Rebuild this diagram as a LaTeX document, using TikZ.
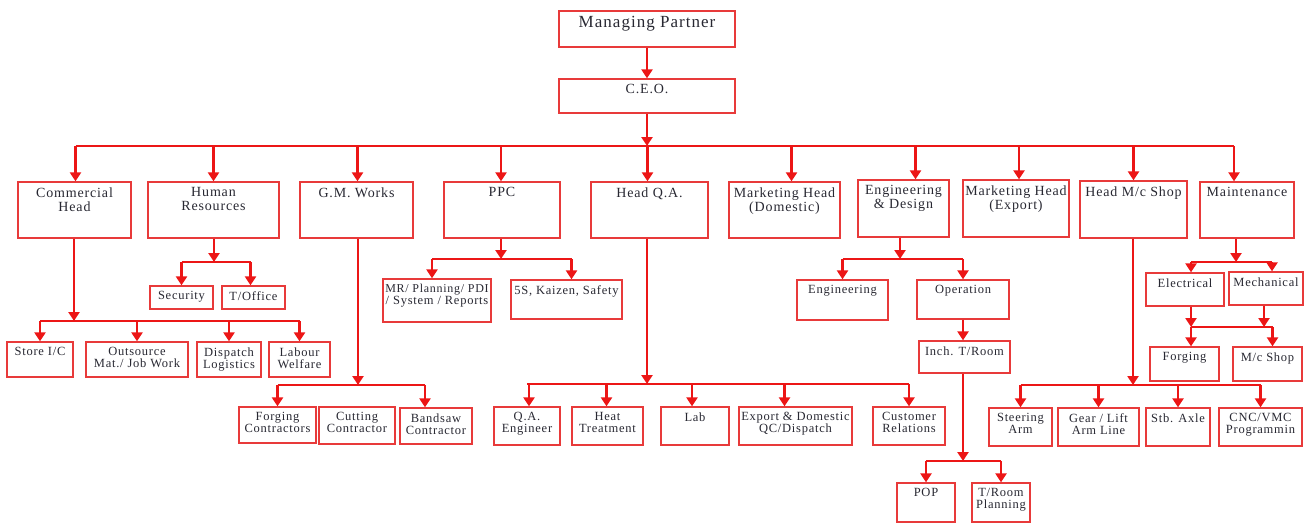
\documentclass[tikz,border=0pt]{standalone}
\usepackage{fontspec}
\setmainfont{Liberation Serif}[LetterSpace=6]
\usetikzlibrary{arrows.meta}

\definecolor{chartred}{RGB}{236,22,22}
\definecolor{boxred}{RGB}{232,58,58}
\definecolor{inkgray}{RGB}{40,40,50}

\newcommand\mpfont{\fontsize{17}{17}\selectfont}
\newcommand\hdfont{\fontsize{14}{14}\selectfont}
\newcommand\smfont{\fontsize{12.5}{12}\selectfont}

\tikzset{
  box/.style={draw=boxred, line width=1.3pt, inner sep=0pt},
  txt/.style={anchor=north, align=center, inner sep=0pt, yshift=-6pt, text=inkgray},
  tbox/.style n args={3}{box, minimum width=#1, minimum height=#2, label={[txt]north:{#3}}},
  hbox/.style n args={3}{box, minimum width=#1, minimum height=#2, label={[txt, font=\hdfont]north:{#3}}},
  arr/.style={->, line width=2.8pt, draw=chartred},
  bus/.style={line width=1.7pt, draw=chartred},
}

\begin{document}
\begin{tikzpicture}[x=1pt, y=-1pt, font=\smfont, >={Triangle[width=11pt,length=9pt]}]
  \useasboundingbox (0,0) rectangle (1304,523);

  %% top
  \node[box, minimum width=176pt, minimum height=36pt, label={[txt, font=\mpfont]north:Managing Partner}] (mp) at (647,29) {};
  \node[hbox={176pt}{34pt}{C.E.O.}] (ceo) at (647,96) {};

  %% heads
  \node[hbox={113pt}{56pt}{Commercial\\Head}] (comm) at (74.5,210) {};
  \node[hbox={131pt}{56pt}{Human\\Resources}] (hr) at (213.5,210) {};
  \node[hbox={113pt}{56pt}{G.M. Works}] (gm) at (356.5,210) {};
  \node[hbox={116pt}{56pt}{PPC}] (ppc) at (502,210) {};
  \node[hbox={117pt}{56pt}{Head Q.A.}] (hqa) at (649.5,210) {};
  \node[hbox={111pt}{56pt}{Marketing Head\\(Domestic)}] (mkd) at (784.5,210) {};
  \node[hbox={91pt}{57pt}{Engineering\\\& Design}] (eng) at (903.5,208.5) {};
  \node[hbox={106pt}{57pt}{Marketing Head\\(Export)}] (mke) at (1016,208.5) {};
  \node[hbox={107pt}{57pt}{Head M/c Shop}] (mcs) at (1133.5,209.5) {};
  \node[hbox={94pt}{56pt}{Maintenance}] (mnt) at (1247,210) {};

  %% commercial / hr / works
  \node[tbox={66pt}{35pt}{Store I/C}] (store) at (40,359.5) {};
  \node[tbox={102pt}{35pt}{Outsource\\Mat./ Job Work}] (outs) at (137,359.5) {};
  \node[tbox={64pt}{35pt}{Dispatch\\Logistics}] (disp) at (229,359.5) {};
  \node[tbox={61pt}{35pt}{Labour\\Welfare}] (labw) at (299.5,359.5) {};
  \node[tbox={63pt}{23pt}{Security}] (sec) at (181.5,297.5) {};
  \node[tbox={63pt}{23pt}{T/Office}] (toff) at (253.5,297.5) {};
  \node[tbox={77pt}{36pt}{Forging\\Contractors}] (fcon) at (277.5,425) {};
  \node[tbox={76pt}{37pt}{Cutting\\Contractor}] (ccon) at (357,425.5) {};
  \node[tbox={72pt}{36pt}{Bandsaw\\Contractor}] (bcon) at (436,426) {};

  %% ppc / q.a.
  \node[tbox={108pt}{43pt}{\fontsize{12}{11}\selectfont MR/ Planning/ PDI\\/ System / Reports}] (mr) at (437,300.5) {};
  \node[tbox={111pt}{39pt}{5S, Kaizen, Safety}] (kai) at (566.5,299.5) {};
  \node[tbox={66pt}{38pt}{Q.A.\\Engineer}] (qae) at (527,426) {};
  \node[tbox={71pt}{38pt}{Heat\\Treatment}] (heat) at (607.5,426) {};
  \node[tbox={68pt}{38pt}{Lab}] (lab) at (695,426) {};
  \node[tbox={113pt}{38pt}{Export \& Domestic\\QC/Dispatch}] (expd) at (795.5,426) {};
  \node[tbox={72pt}{38pt}{Customer\\Relations}] (cust) at (909,426) {};

  %% engineering
  \node[tbox={91pt}{40pt}{Engineering}] (engg) at (842.5,300) {};
  \node[tbox={92pt}{39pt}{Operation}] (oper) at (963,299.5) {};
  \node[tbox={91pt}{32pt}{Inch. T/Room}] (inch) at (964.5,357) {};
  \node[tbox={58pt}{39pt}{POP}] (pop) at (926,502.5) {};
  \node[tbox={58pt}{39pt}{T/Room\\Planning}] (trp) at (1001,502.5) {};

  %% m/c shop / maintenance
  \node[tbox={63pt}{38pt}{Steering\\Arm}] (steer) at (1020.5,427) {};
  \node[tbox={81pt}{38pt}{Gear / Lift\\Arm Line}] (gear) at (1098.5,427) {};
  \node[tbox={64pt}{38pt}{Stb. Axle}] (stb) at (1178,427) {};
  \node[tbox={83pt}{38pt}{CNC/VMC\\Programmin}] (cnc) at (1260.5,427) {};
  \node[tbox={78pt}{33pt}{Electrical}] (elec) at (1185,289.5) {};
  \node[tbox={74pt}{33pt}{Mechanical}] (mech) at (1266,288.5) {};
  \node[tbox={69pt}{34pt}{Forging}] (forg) at (1184.5,364) {};
  \node[tbox={69pt}{34pt}{M/c Shop}] (mcsh) at (1267.5,364) {};

  %% bus points
  \coordinate (b0) at (647,146);
  \coordinate (b1) at (74,321);
  \coordinate (b2) at (214,262);
  \coordinate (b3) at (358,385);
  \coordinate (b4) at (501,259);
  \coordinate (b5) at (647,384);
  \coordinate (b6) at (900,259);
  \coordinate (b7) at (963,461);
  \coordinate (b8) at (1133,385);
  \coordinate (b9) at (1236,262);
  \coordinate (b10) at (1191,327);

  \draw[arr] (mp) -- (ceo);
  \draw[arr] (ceo) -- (b0);
  \draw[bus] ([xshift=1]comm.north |- b0) -- ([xshift=-13]mnt.north |- b0);
  \foreach \n/\dx in {comm/1, hr/0, gm/1, ppc/-1, hqa/-2, mkd/7, eng/12, mke/3, mcs/0, mnt/-13}
    \draw[arr] ([xshift=\dx]\n.north |- b0) -- ([xshift=\dx]\n.north);

  %% commercial
  \draw[arr] (comm.south -| b1) -- (b1);
  \draw[bus] (store.north |- b1) -- (labw.north |- b1);
  \foreach \n in {store, outs, disp, labw}
    \draw[arr] (\n.north |- b1) -- (\n);

  %% hr
  \draw[arr] (hr.south -| b2) -- (b2);
  \draw[bus] (sec.north |- b2) -- ([xshift=-3]toff.north |- b2);
  \draw[arr] (sec.north |- b2) -- (sec);
  \draw[arr] ([xshift=-3]toff.north |- b2) -- ([xshift=-3]toff.north);

  %% works
  \draw[arr] (gm.south -| b3) -- (b3);
  \draw[bus] (fcon.north |- b3) -- ([xshift=-11]bcon.north |- b3);
  \draw[arr] (fcon.north |- b3) -- (fcon);
  \draw[arr] ([xshift=-11]bcon.north |- b3) -- ([xshift=-11]bcon.north);

  %% ppc
  \draw[arr] (ppc.south -| b4) -- (b4);
  \draw[bus] ([xshift=-5]mr.north |- b4) -- ([xshift=5]kai.north |- b4);
  \draw[arr] ([xshift=-5]mr.north |- b4) -- ([xshift=-5]mr.north);
  \draw[arr] ([xshift=5]kai.north |- b4) -- ([xshift=5]kai.north);

  %% q.a.
  \draw[arr] (hqa.south -| b5) -- (b5);
  \draw[bus] (qae.north |- b5) -- (cust.north |- b5);
  \foreach \n/\dx in {qae/2, heat/-1, lab/-3, expd/-11, cust/0}
    \draw[arr] ([xshift=\dx]\n.north |- b5) -- ([xshift=\dx]\n.north);

  %% engineering
  \draw[arr] (eng.south -| b6) -- (b6);
  \draw[bus] (engg.north |- b6) -- (oper.north |- b6);
  \draw[arr] (engg.north |- b6) -- (engg);
  \draw[arr] (oper.north |- b6) -- (oper);
  \draw[arr] (oper.south -| b7) -- (inch.north -| b7);
  \draw[arr] (inch.south -| b7) -- (b7);
  \draw[bus] (pop.north |- b7) -- (trp.north |- b7);
  \draw[arr] (pop.north |- b7) -- (pop);
  \draw[arr] (trp.north |- b7) -- (trp);

  %% m/c shop
  \draw[arr] (mcs.south -| b8) -- (b8);
  \draw[bus] (steer.north |- b8) -- (cnc.north |- b8);
  \foreach \n in {steer, gear, stb, cnc}
    \draw[arr] (\n.north |- b8) -- (\n);

  %% maintenance
  \draw[arr] (mnt.south -| b9) -- (b9);
  \draw[bus] ([xshift=6]elec.north |- b9) -- ([xshift=6]mech.north |- b9);
  \draw[arr] ([xshift=6]elec.north |- b9) -- ([xshift=6]elec.north);
  \draw[arr] ([xshift=6]mech.north |- b9) -- ([xshift=6]mech.north);
  \draw[arr] ([xshift=6]elec.south) -- ([xshift=6]elec.south |- b10);
  \draw[arr] ([xshift=-2]mech.south) -- ([xshift=-2]mech.south |- b10);
  \draw[bus] (b10) -- ([xshift=5]mcsh.north |- b10);
  \draw[arr] ([xshift=6.5]forg.north |- b10) -- ([xshift=6.5]forg.north);
  \draw[arr] ([xshift=5]mcsh.north |- b10) -- ([xshift=5]mcsh.north);
\end{tikzpicture}
\end{document}
